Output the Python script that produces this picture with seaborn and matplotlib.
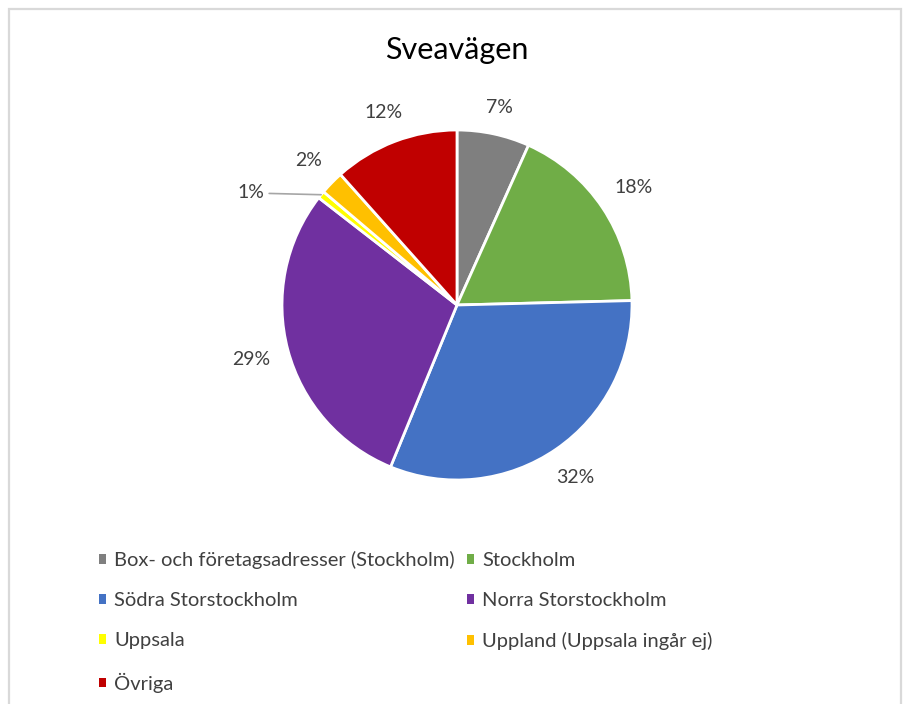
import numpy as np
import seaborn as sns
import matplotlib.pyplot as plt
from matplotlib.patches import Rectangle, Patch

sns.set_theme(style="white")
plt.rcParams['font.family'] = ['Lato', 'DejaVu Sans']

title = "Sveavägen"
categories = ["Box- och företagsadresser (Stockholm)", "Stockholm", "Södra Storstockholm",
              "Norra Storstockholm", "Uppsala", "Uppland (Uppsala ingår ej)", "Övriga"]
shares = [6.7, 17.9, 31.6, 29.3, 0.7, 2.2, 11.6]
colors = ["#7F7F7F", "#70AD47", "#4472C4", "#7030A0", "#FFFF00", "#FFC000", "#C00000"]
small_label = "Uppsala"

W, H = 904, 704
fig = plt.figure(figsize=(W / 100, H / 100), dpi=100)

# light grey frame like the office chart area
fig.patches.append(Rectangle((9 / W, -0.02), (901 - 9) / W, (H - 9) / H + 0.02,
                             transform=fig.transFigure, fill=False,
                             edgecolor="#D9D9D9", linewidth=1.6))

radius_px = 175
cx, cy = 457, 305
lim = 1.25
size = 2 * lim * radius_px
ax = fig.add_axes([(cx - size / 2) / W, 1 - (cy + size / 2) / H, size / W, size / H])

small_idx = categories.index(small_label)


def pct_fmt(p):
    return f"{p:.0f}%"


wedges, texts, autotexts = ax.pie(
    shares, colors=colors, startangle=90, counterclock=False,
    autopct=pct_fmt, pctdistance=1.2,
    wedgeprops=dict(edgecolor="white", linewidth=2),
    textprops=dict(fontsize=14, color="#404040"))
ax.set_xlim(-lim, lim)
ax.set_ylim(-lim, lim)
ax.set_aspect("equal")

# place labels like excel: label box just outside a ring around the pie
renderer = fig.canvas.get_renderer()
ring = 1.10
for w, t in zip(wedges, autotexts):
    th = np.deg2rad((w.theta1 + w.theta2) / 2)
    bb = t.get_window_extent(renderer)
    hw = bb.width / 2 / radius_px
    hh = bb.height / 2 / radius_px * 0.8
    d = ring + hw * abs(np.cos(th)) + hh * abs(np.sin(th))
    t.set_position((d * np.cos(th), d * np.sin(th)))

# the tiny slice gets a label with a leader line
autotexts[small_idx].set_visible(False)
w = wedges[small_idx]
theta = np.deg2rad((w.theta1 + w.theta2) / 2)
ax.annotate(pct_fmt(shares[small_idx]), xy=(np.cos(theta), np.sin(theta)),
            xytext=(-1.1, np.sin(theta) + 0.01), ha="right", va="center",
            fontsize=14, color="#404040",
            arrowprops=dict(arrowstyle="-", color="#A6A6A6", lw=1.2,
                            shrinkA=1, shrinkB=0))

fig.text(cx / W, 1 - 50 / H, title, ha="center", va="center", fontsize=22, color="#000000")

handles = [Patch(facecolor=c, edgecolor="none") for c in colors]
order = [0, 2, 4, 6, 1, 3, 5]
leg = fig.legend([handles[i] for i in order], [categories[i] for i in order],
                 ncol=2, loc="upper left", bbox_to_anchor=(99 / W, 1 - 551 / H),
                 frameon=False, fontsize=14.5, handlelength=0.36, handleheight=0.36,
                 handletextpad=0.4, columnspacing=0.6, labelspacing=1.15,
                 borderaxespad=0, borderpad=0)
for t in leg.get_texts():
    t.set_color("#404040")

fig.savefig("out.png", dpi=100, facecolor="white")
